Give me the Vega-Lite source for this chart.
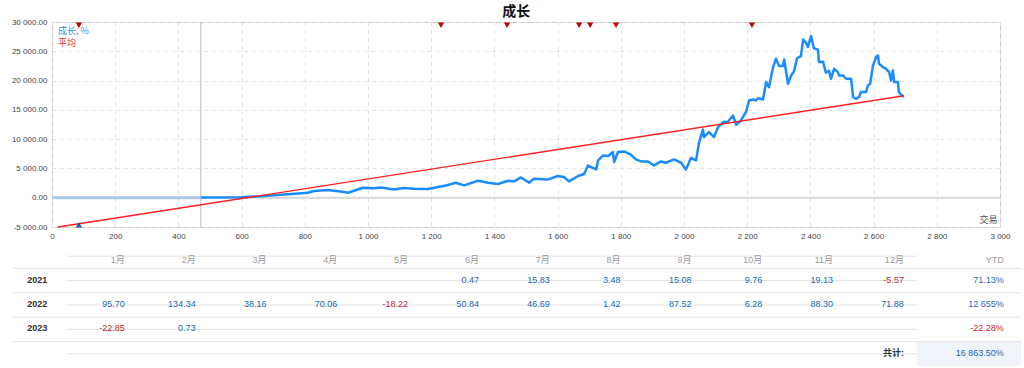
{
  "$schema": "https://vega.github.io/schema/vega-lite/v6.json",
  "padding": {"left": 10, "top": 4, "right": 4, "bottom": 0},
  "spacing": 3,
  "title": {"text": "成长", "anchor": "middle", "font": "Noto Sans CJK SC", "fontSize": 14, "fontWeight": "bold", "color": "#111111", "offset": -1},
  "config": {
    "locale": {"number": {"decimal": ".", "thousands": " ", "grouping": [3], "currency": ["", ""], "minus": "-"}},
    "view": {"stroke": null},
    "font": "Liberation Sans",
    "axis": {"labelOverlap": false, "labelFont": "Liberation Sans", "labelFontSize": 8, "labelColor": "#444444", "ticks": false, "domain": false, "grid": true, "gridDash": [4, 4], "gridColor": "#e2e2e2", "labelPadding": 5, "labelFlush": false, "labelBound": false}
  },
  "datasets": {
    "growth": [
      {"x":471,"y":50},{"x":598,"y":85},{"x":646,"y":220},{"x":725,"y":510},{"x":810,"y":850},{"x":829,"y":1140},{"x":873,"y":1310},{"x":924,"y":970},{"x":937,"y":850},{"x":984,"y":1700},{"x":1019,"y":1620},{"x":1041,"y":1760},{"x":1082,"y":1420},{"x":1114,"y":1650},{"x":1146,"y":1540},{"x":1190,"y":1490},{"x":1222,"y":1830},{"x":1250,"y":2130},{"x":1278,"y":2560},{"x":1304,"y":2100},{"x":1348,"y":2900},{"x":1380,"y":2560},{"x":1411,"y":2340},{"x":1443,"y":2900},{"x":1462,"y":2780},{"x":1484,"y":3460},{"x":1510,"y":2560},{"x":1525,"y":3240},{"x":1570,"y":3120},{"x":1601,"y":3700},{"x":1620,"y":3530},{"x":1636,"y":2780},{"x":1665,"y":3700},{"x":1684,"y":4040},{"x":1696,"y":5510},{"x":1706,"y":5240},{"x":1722,"y":4830},{"x":1728,"y":6370},{"x":1744,"y":7220},{"x":1760,"y":7120},{"x":1775,"y":7800},{"x":1779,"y":6090},{"x":1791,"y":7800},{"x":1810,"y":7900},{"x":1832,"y":7340},{"x":1848,"y":6540},{"x":1864,"y":6190},{"x":1886,"y":6190},{"x":1905,"y":5510},{"x":1927,"y":6190},{"x":1943,"y":5970},{"x":1968,"y":6540},{"x":1991,"y":5970},{"x":2006,"y":4830},{"x":2022,"y":6780},{"x":2038,"y":6370},{"x":2048,"y":9500},{"x":2060,"y":11650},{"x":2063,"y":10360},{"x":2079,"y":11210},{"x":2095,"y":10360},{"x":2108,"y":12070},{"x":2124,"y":12920},{"x":2139,"y":12970},{"x":2155,"y":14040},{"x":2165,"y":12460},{"x":2180,"y":13190},{"x":2196,"y":14630},{"x":2206,"y":16600},{"x":2218,"y":16780},{"x":2228,"y":16600},{"x":2234,"y":17010},{"x":2250,"y":16780},{"x":2260,"y":19740},{"x":2269,"y":18890},{"x":2282,"y":22300},{"x":2291,"y":23720},{"x":2301,"y":22480},{"x":2313,"y":22480},{"x":2317,"y":23600},{"x":2329,"y":19450},{"x":2339,"y":20870},{"x":2348,"y":21550},{"x":2358,"y":23840},{"x":2370,"y":24180},{"x":2377,"y":27010},{"x":2386,"y":26450},{"x":2392,"y":25720},{"x":2402,"y":27590},{"x":2411,"y":25510},{"x":2424,"y":25290},{"x":2427,"y":23160},{"x":2440,"y":23210},{"x":2449,"y":21330},{"x":2459,"y":21670},{"x":2465,"y":20310},{"x":2475,"y":22010},{"x":2487,"y":21450},{"x":2491,"y":20870},{"x":2503,"y":20870},{"x":2513,"y":20310},{"x":2529,"y":20310},{"x":2535,"y":17190},{"x":2544,"y":16890},{"x":2554,"y":17190},{"x":2560,"y":18040},{"x":2576,"y":18040},{"x":2582,"y":19160},{"x":2589,"y":19450},{"x":2598,"y":22580},{"x":2608,"y":24010},{"x":2614,"y":24280},{"x":2617,"y":22870},{"x":2630,"y":22300},{"x":2639,"y":22010},{"x":2649,"y":21450},{"x":2655,"y":20020},{"x":2661,"y":21720},{"x":2665,"y":19740},{"x":2677,"y":19740},{"x":2680,"y":18040},{"x":2687,"y":17580},{"x":2696,"y":17190}
    ],
    "prestart": [{"x": 0, "y": 0}, {"x": 471, "y": 0}],
    "trend": [{"x": 19, "y": -5000}, {"x": 2696, "y": 17400}],
    "sells": [{"x": 85}, {"x": 1231}, {"x": 1440}, {"x": 1668}, {"x": 1703}, {"x": 1785}, {"x": 2215}],
    "buys": [{"x": 85}],
    "rows": [{"row": "header"}, {"row": "2021"}, {"row": "2022"}, {"row": "2023"}, {"row": "total"}],
    "months": [
      {"month": 1, "label": "1月"}, {"month": 2, "label": "2月"}, {"month": 3, "label": "3月"}, {"month": 4, "label": "4月"},
      {"month": 5, "label": "5月"}, {"month": 6, "label": "6月"}, {"month": 7, "label": "7月"}, {"month": 8, "label": "8月"},
      {"month": 9, "label": "9月"}, {"month": 10, "label": "10月"}, {"month": 11, "label": "11月"}, {"month": 12, "label": "12月"}
    ],
    "cells": [
      {"year": "2021", "month": 6, "value": 0.47}, {"year": "2021", "month": 7, "value": 15.83}, {"year": "2021", "month": 8, "value": 3.48},
      {"year": "2021", "month": 9, "value": 15.08}, {"year": "2021", "month": 10, "value": 9.76}, {"year": "2021", "month": 11, "value": 19.13},
      {"year": "2021", "month": 12, "value": -5.57},
      {"year": "2022", "month": 1, "value": 95.70}, {"year": "2022", "month": 2, "value": 134.34}, {"year": "2022", "month": 3, "value": 38.16},
      {"year": "2022", "month": 4, "value": 70.06}, {"year": "2022", "month": 5, "value": -18.22}, {"year": "2022", "month": 6, "value": 50.84},
      {"year": "2022", "month": 7, "value": 46.69}, {"year": "2022", "month": 8, "value": 1.42}, {"year": "2022", "month": 9, "value": 87.52},
      {"year": "2022", "month": 10, "value": 6.28}, {"year": "2022", "month": 11, "value": 88.30}, {"year": "2022", "month": 12, "value": 71.88},
      {"year": "2023", "month": 1, "value": -22.85}, {"year": "2023", "month": 2, "value": 0.73}
    ],
    "ytd": [
      {"year": "2021", "ytd": 71.13, "text": "71.13%"}, {"year": "2022", "ytd": 12655, "text": "12 655%"}, {"year": "2023", "ytd": -22.28, "text": "-22.28%"}
    ]
  },
  "vconcat": [
    {
      "width": 948,
      "height": 205,
      "view": {"stroke": "#c6c6c6"},
      "layer": [
        {
          "data": {"name": "growth"},
          "mark": {"type": "line", "color": "#1a8cff", "strokeWidth": 2.5, "opacity": 0},
          "encoding": {
            "x": {"field": "x", "type": "quantitative", "scale": {"domain": [0, 3000], "nice": false, "zero": false},
              "axis": {"values": [0,200,400,600,800,1000,1200,1400,1600,1800,2000,2200,2400,2600,2800,3000], "format": ",d", "labelOverlap": false, "title": null}},
            "y": {"field": "y", "type": "quantitative", "scale": {"domain": [-5000, 30000], "nice": false, "zero": false},
              "axis": {"values": [-5000,0,5000,10000,15000,20000,25000,30000], "format": ",.2f", "labelOverlap": false, "title": null}}
          }
        },
        {
          "data": {"values": [{"y": 0}]},
          "mark": {"type": "rule", "color": "#d9d9d9", "strokeWidth": 2},
          "encoding": {"y": {"field": "y", "type": "quantitative", "axis": {"values": [-5000,0,5000,10000,15000,20000,25000,30000], "format": ",.2f", "labelOverlap": false, "title": null}}}
        },
        {
          "data": {"values": [{"start": 471}]},
          "mark": {"type": "rule", "color": "#bdbdbd", "strokeWidth": 1},
          "encoding": {"x": {"field": "start", "type": "quantitative", "axis": {"values": [0,200,400,600,800,1000,1200,1400,1600,1800,2000,2200,2400,2600,2800,3000], "format": ",d", "labelOverlap": false, "title": null}}}
        },
        {
          "data": {"name": "prestart"},
          "mark": {"type": "line", "color": "#a9c8ea", "strokeWidth": 3},
          "encoding": {
            "x": {"field": "x", "type": "quantitative", "axis": {"values": [0,200,400,600,800,1000,1200,1400,1600,1800,2000,2200,2400,2600,2800,3000], "format": ",d", "labelOverlap": false, "title": null}},
            "y": {"field": "y", "type": "quantitative", "axis": {"values": [-5000,0,5000,10000,15000,20000,25000,30000], "format": ",.2f", "labelOverlap": false, "title": null}}
          }
        },
        {
          "data": {"name": "growth"},
          "mark": {"type": "line", "color": "#1a8cff", "strokeWidth": 2.5, "strokeJoin": "round"},
          "encoding": {
            "x": {"field": "x", "type": "quantitative", "axis": {"values": [0,200,400,600,800,1000,1200,1400,1600,1800,2000,2200,2400,2600,2800,3000], "format": ",d", "labelOverlap": false, "title": null}},
            "y": {"field": "y", "type": "quantitative", "axis": {"values": [-5000,0,5000,10000,15000,20000,25000,30000], "format": ",.2f", "labelOverlap": false, "title": null}}
          }
        },
        {
          "data": {"name": "trend"},
          "mark": {"type": "line", "color": "#ff2020", "strokeWidth": 1.4},
          "encoding": {
            "x": {"field": "x", "type": "quantitative", "axis": {"values": [0,200,400,600,800,1000,1200,1400,1600,1800,2000,2200,2400,2600,2800,3000], "format": ",d", "labelOverlap": false, "title": null}},
            "y": {"field": "y", "type": "quantitative", "axis": {"values": [-5000,0,5000,10000,15000,20000,25000,30000], "format": ",.2f", "labelOverlap": false, "title": null}}
          }
        },
        {
          "data": {"name": "sells"},
          "mark": {"type": "point", "shape": "triangle-down", "filled": true, "size": 40, "color": "#c00000", "opacity": 1},
          "encoding": {
            "x": {"field": "x", "type": "quantitative", "axis": {"values": [0,200,400,600,800,1000,1200,1400,1600,1800,2000,2200,2400,2600,2800,3000], "format": ",d", "labelOverlap": false, "title": null}},
            "y": {"datum": 29450, "type": "quantitative", "axis": {"values": [-5000,0,5000,10000,15000,20000,25000,30000], "format": ",.2f", "labelOverlap": false, "title": null}}
          }
        },
        {
          "data": {"name": "buys"},
          "mark": {"type": "point", "shape": "triangle-up", "filled": true, "size": 40, "color": "#1f5e9e", "opacity": 1},
          "encoding": {
            "x": {"field": "x", "type": "quantitative", "axis": {"values": [0,200,400,600,800,1000,1200,1400,1600,1800,2000,2200,2400,2600,2800,3000], "format": ",d", "labelOverlap": false, "title": null}},
            "y": {"datum": -4600, "type": "quantitative", "axis": {"values": [-5000,0,5000,10000,15000,20000,25000,30000], "format": ",.2f", "labelOverlap": false, "title": null}}
          }
        },
        {
          "data": {"values": [{}]},
          "mark": {"type": "text", "align": "left", "baseline": "middle", "font": "Noto Sans CJK SC", "fontSize": 9, "color": "#3a8ee8"},
          "encoding": {
            "x": {"datum": 19, "type": "quantitative", "axis": {"values": [0,200,400,600,800,1000,1200,1400,1600,1800,2000,2200,2400,2600,2800,3000], "format": ",d", "labelOverlap": false, "title": null}},
            "y": {"datum": 28450, "type": "quantitative", "axis": {"values": [-5000,0,5000,10000,15000,20000,25000,30000], "format": ",.2f", "labelOverlap": false, "title": null}},
            "text": {"value": "成长, %"}
          }
        },
        {
          "data": {"values": [{}]},
          "mark": {"type": "text", "align": "left", "baseline": "middle", "font": "Noto Sans CJK SC", "fontSize": 9, "color": "#e23232"},
          "encoding": {
            "x": {"datum": 19, "type": "quantitative", "axis": {"values": [0,200,400,600,800,1000,1200,1400,1600,1800,2000,2200,2400,2600,2800,3000], "format": ",d", "labelOverlap": false, "title": null}},
            "y": {"datum": 26400, "type": "quantitative", "axis": {"values": [-5000,0,5000,10000,15000,20000,25000,30000], "format": ",.2f", "labelOverlap": false, "title": null}},
            "text": {"value": "平均"}
          }
        },
        {
          "data": {"values": [{}]},
          "mark": {"type": "text", "align": "right", "baseline": "middle", "font": "Noto Sans CJK SC", "fontSize": 9, "color": "#555555"},
          "encoding": {
            "x": {"datum": 2992, "type": "quantitative", "axis": {"values": [0,200,400,600,800,1000,1200,1400,1600,1800,2000,2200,2400,2600,2800,3000], "format": ",d", "labelOverlap": false, "title": null}},
            "y": {"datum": -3750, "type": "quantitative", "axis": {"values": [-5000,0,5000,10000,15000,20000,25000,30000], "format": ",.2f", "labelOverlap": false, "title": null}},
            "text": {"value": "交易"}
          }
        }
      ]
    },
    {
      "width": 969,
      "height": 122,
      "layer": [
        {
          "data": {"name": "rows"},
          "transform": [{"filter": "datum.row == 'total'"}],
          "mark": {"type": "rect", "fill": "#eff3fa"},
          "encoding": {
            "x": {"datum": 12, "type": "quantitative", "scale": {"domain": [-0.2118, 13.47], "nice": false, "zero": false}, "axis": null},
            "x2": {"datum": 13.47},
            "y": {"field": "row", "type": "ordinal", "scale": {"domain": ["header", "2021", "2022", "2023", "total"], "paddingInner": 0, "paddingOuter": 0}, "axis": null}
          }
        },
        {
          "data": {"name": "rows"},
          "transform": [{"filter": "datum.row != 'total'"}],
          "mark": {"type": "rule", "color": "#e4e4e4"},
          "encoding": {
            "x": {"datum": -0.76, "type": "quantitative", "axis": null},
            "x2": {"datum": 13.47},
            "y": {"field": "row", "type": "ordinal", "bandPosition": 1, "axis": null}
          }
        },
        {
          "data": {"name": "rows"},
          "transform": [{"filter": "datum.row != 'total'"}],
          "mark": {"type": "rule", "color": "#e4e4e4"},
          "encoding": {"x": {"datum": 0, "type": "quantitative", "axis": null}, "y": {"field": "row", "type": "ordinal", "axis": null}}
        },
        {
          "data": {"name": "rows"},
          "mark": {"type": "rule", "color": "#e4e4e4"},
          "encoding": {"x": {"datum": 12, "type": "quantitative", "axis": null}, "y": {"field": "row", "type": "ordinal", "axis": null}}
        },
        {
          "data": {"name": "months"},
          "mark": {"type": "text", "align": "right", "baseline": "middle", "dx": -13, "dy": 4, "fontSize": 9, "font": "Liberation Sans, Noto Sans CJK SC", "color": "#9a9a9a"},
          "encoding": {"x": {"field": "month", "type": "quantitative", "axis": null}, "y": {"datum": "header", "type": "ordinal", "axis": null}, "text": {"field": "label"}}
        },
        {
          "data": {"values": [{}]},
          "mark": {"type": "text", "align": "right", "baseline": "middle", "dx": -13, "dy": 4, "fontSize": 9, "font": "Liberation Sans", "color": "#9a9a9a"},
          "encoding": {"x": {"datum": 13.41, "type": "quantitative", "axis": null}, "y": {"datum": "header", "type": "ordinal", "axis": null}, "text": {"value": "YTD"}}
        },
        {
          "data": {"name": "cells"},
          "mark": {"type": "text", "align": "right", "baseline": "middle", "dx": -13, "dy": -1, "fontSize": 9, "font": "Liberation Sans"},
          "encoding": {
            "x": {"field": "month", "type": "quantitative", "axis": null},
            "y": {"field": "year", "type": "ordinal", "axis": null},
            "text": {"field": "value", "type": "quantitative", "format": ".2f"},
            "color": {"condition": {"test": "datum.value < 0", "value": "#c0272d"}, "value": "#2468b0"}
          }
        },
        {
          "data": {"name": "rows"},
          "transform": [{"filter": "datum.row != 'total' && datum.row != 'header'"}],
          "mark": {"type": "text", "align": "center", "baseline": "middle", "dy": -1, "fontSize": 9, "fontWeight": "bold", "font": "Liberation Sans", "color": "#333333"},
          "encoding": {"x": {"datum": -0.42, "type": "quantitative", "axis": null}, "y": {"field": "row", "type": "ordinal", "axis": null}, "text": {"field": "row"}}
        },
        {
          "data": {"name": "ytd"},
          "mark": {"type": "text", "align": "right", "baseline": "middle", "dx": -13, "dy": -1, "fontSize": 9, "font": "Liberation Sans"},
          "encoding": {
            "x": {"datum": 13.41, "type": "quantitative", "axis": null},
            "y": {"field": "year", "type": "ordinal", "axis": null},
            "text": {"field": "text"},
            "color": {"condition": {"test": "datum.ytd < 0", "value": "#c0272d"}, "value": "#2468b0"}
          }
        },
        {
          "data": {"values": [{}]},
          "mark": {"type": "text", "align": "right", "baseline": "middle", "dx": -13, "dy": -1, "fontSize": 9, "fontWeight": "bold", "font": "Liberation Sans, Noto Sans CJK SC", "color": "#333333"},
          "encoding": {"x": {"datum": 12, "type": "quantitative", "axis": null}, "y": {"datum": "total", "type": "ordinal", "axis": null}, "text": {"value": "共计:"}}
        },
        {
          "data": {"values": [{}]},
          "mark": {"type": "text", "align": "right", "baseline": "middle", "dx": -13, "dy": -1, "fontSize": 9, "font": "Liberation Sans", "color": "#2468b0"},
          "encoding": {"x": {"datum": 13.41, "type": "quantitative", "axis": null}, "y": {"datum": "total", "type": "ordinal", "axis": null}, "text": {"value": "16 863.50%"}}
        }
      ]
    }
  ]
}
